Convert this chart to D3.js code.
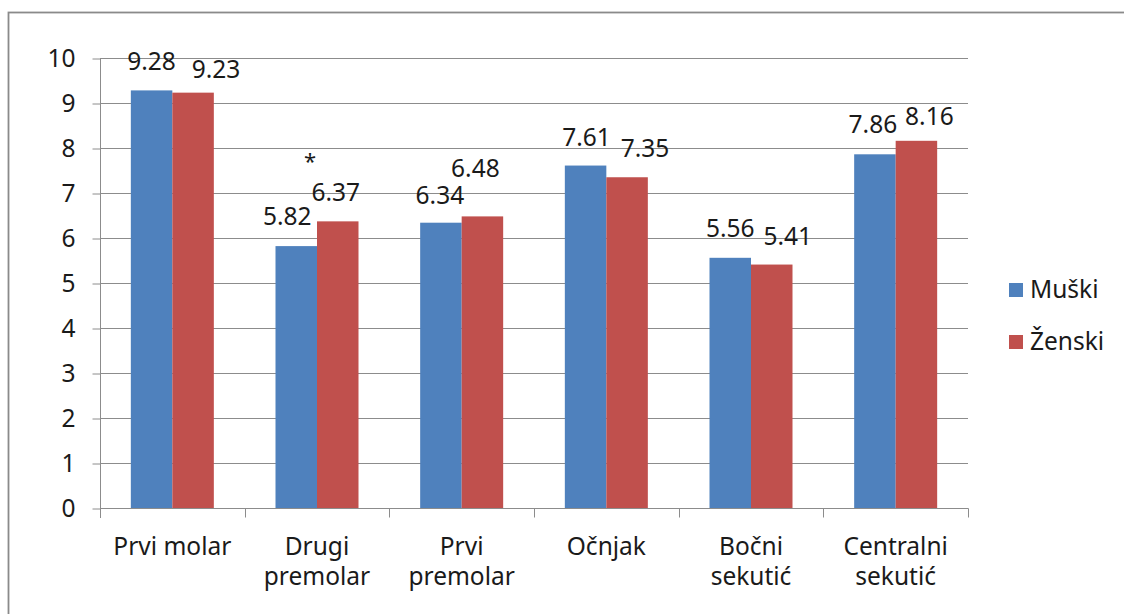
<!DOCTYPE html>
<html>
<head>
<meta charset="utf-8">
<script src="https://cdn.jsdelivr.net/npm/d3@7/dist/d3.min.js"></script>
<style>
  html, body { margin: 0; padding: 0; background: #fff; }
  svg { display: block; }
  text { font-family: "Noto Sans", "Open Sans", sans-serif; fill: #1a1a1a; }
</style>
</head>
<body>
<svg id="chart" width="1124" height="614"></svg>
<script>
// Tooth categories (two-line labels split by "\n")
const categories = ["Prvi molar", "Drugi\npremolar", "Prvi\npremolar", "Očnjak", "Bočni\nsekutić", "Centralni\nsekutić"];
const seriesNames = ["Muški", "Ženski"];
const muski  = [9.28, 5.82, 6.34, 7.61, 5.56, 7.86];
const zenski = [9.23, 6.37, 6.48, 7.35, 5.41, 8.16];
const yTicks = [0, 1, 2, 3, 4, 5, 6, 7, 8, 9, 10];
// significance marker per category
const marks = ["", "*", "", "", "", ""];

// hand-placed nudges for the value labels, [dx, dy] in px
const labelNudge = [
  [[0, 0], [-9, -1], [-1, 1], [1, 0], [0, -1], [-2, -1]],
  [[23, 5], [-2, 0], [-7, -19], [18, 0], [16, 0], [13, 4]]
];

const colors = ["#4F81BD", "#C0504D"];
const values = [muski, zenski];

const svg = d3.select("#chart");
const fontSize = 24.5;

// outer chart frame
svg.append("rect")
  .attr("x", 8.5).attr("y", 12.5)
  .attr("width", 1300).attr("height", 800)
  .attr("fill", "none").attr("stroke", "#8a8a8a").attr("stroke-width", 1.8);

const plot = { left: 100, right: 968, top: 58, bottom: 508 };

const x = d3.scaleBand()
  .domain(d3.range(categories.length))
  .range([plot.left, plot.right])
  .paddingInner(0).paddingOuter(0);

const barW = 41.5;
const xs = d3.scaleBand()
  .domain(d3.range(seriesNames.length))
  .range([x.bandwidth() / 2 - barW, x.bandwidth() / 2 + barW]);

const y = d3.scaleLinear().domain([0, 10]).range([plot.bottom, plot.top]);

// horizontal gridlines
svg.append("g")
  .selectAll("line")
  .data(yTicks.filter(t => t > 0))
  .join("line")
  .attr("x1", plot.left).attr("x2", plot.right)
  .attr("y1", d => y(d) + 0.5).attr("y2", d => y(d) + 0.5)
  .attr("stroke", "#8c8c8c").attr("stroke-width", 1);

// y axis
const yAxis = svg.append("g")
  .attr("transform", `translate(${plot.left + 0.5},0)`)
  .call(d3.axisLeft(y).tickValues(yTicks).tickSize(8).tickPadding(17).tickFormat(d3.format("d")));
yAxis.select(".domain").attr("stroke", "#8c8c8c").attr("d", `M0,${plot.top}V${plot.bottom + 10}`);
yAxis.selectAll(".tick line").attr("stroke", "#8c8c8c").attr("transform", "translate(0,0.5)");
yAxis.selectAll(".tick text")
  .attr("font-size", fontSize).attr("font-family", "Noto Sans").attr("fill", "#1a1a1a")
  .attr("dy", "0.35em");

// bars
const groups = svg.append("g")
  .selectAll("g")
  .data(categories.map((c, i) => i))
  .join("g")
  .attr("transform", i => `translate(${x(i)},0)`);

groups.selectAll("rect")
  .data(i => values.map((s, k) => ({ k, v: s[i], i })))
  .join("rect")
  .attr("x", d => xs(d.k))
  .attr("width", xs.bandwidth())
  .attr("y", d => y(d.v))
  .attr("height", d => y(0) - y(d.v))
  .attr("fill", d => colors[d.k]);

// x axis with ticks at category boundaries
const xAxisG = svg.append("g").attr("transform", `translate(0,${plot.bottom + 0.5})`);
xAxisG.append("line")
  .attr("x1", plot.left).attr("x2", plot.right + 0.5)
  .attr("stroke", "#8c8c8c");
xAxisG.selectAll("line.tk")
  .data(d3.range(categories.length + 1))
  .join("line").attr("class", "tk")
  .attr("x1", i => Math.round(plot.left + i * x.bandwidth()) + 0.5)
  .attr("x2", i => Math.round(plot.left + i * x.bandwidth()) + 0.5)
  .attr("y1", 0).attr("y2", 9)
  .attr("stroke", "#8c8c8c");

// category labels
svg.append("g")
  .selectAll("text")
  .data(categories)
  .join("text")
  .attr("x", (d, i) => x(i) + x.bandwidth() / 2)
  .attr("y", 555)
  .attr("text-anchor", "middle")
  .attr("font-size", fontSize)
  .selectAll("tspan")
  .data(d => d.split("\n"))
  .join("tspan")
  .attr("x", function () { return this.parentNode.getAttribute("x"); })
  .attr("dy", (d, j) => j === 0 ? 0 : 30)
  .text(d => d);

// value labels
const labels = [];
values.forEach((s, k) => s.forEach((v, i) => labels.push({ k, i, v })));
svg.append("g")
  .selectAll("text")
  .data(labels)
  .join("text")
  .attr("x", d => x(d.i) + xs(d.k) + xs.bandwidth() / 2 + labelNudge[d.k][d.i][0])
  .attr("y", d => y(d.v) - 20 + labelNudge[d.k][d.i][1])
  .attr("text-anchor", "middle")
  .attr("font-size", fontSize)
  .text(d => d.v.toFixed(2));

// significance marker above the group
svg.append("g")
  .selectAll("text")
  .data(marks.map((m, i) => ({ m, i })).filter(d => d.m))
  .join("text")
  .attr("x", d => x(d.i) + x.bandwidth() / 2 - 7)
  .attr("y", d => y(Math.max(muski[d.i], zenski[d.i])) - 52)
  .attr("text-anchor", "middle")
  .attr("font-size", 22)
  .text(d => d.m);

// legend
const legend = svg.append("g").attr("transform", "translate(1009,283)");
const li = legend.selectAll("g")
  .data(seriesNames)
  .join("g")
  .attr("transform", (d, k) => `translate(0,${k * 52})`);
li.append("rect")
  .attr("width", 14).attr("height", 14)
  .attr("fill", (d, k) => colors[k]);
li.append("text")
  .attr("x", 21).attr("y", 15)
  .attr("font-size", fontSize)
  .text(d => d);
</script>
</body>
</html>
